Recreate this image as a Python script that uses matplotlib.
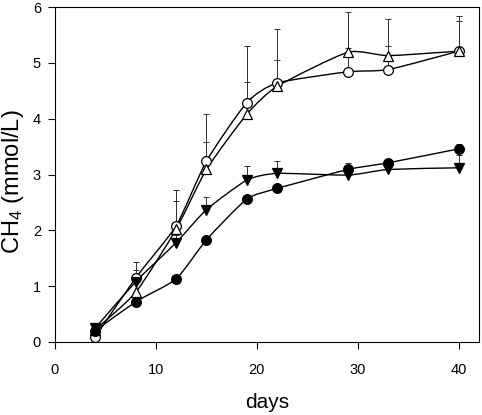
import numpy as np
import matplotlib
matplotlib.use("Agg")
import matplotlib.pyplot as plt
from matplotlib.path import Path
from matplotlib.patches import PathPatch

plt.rcParams['font.family'] = ['Liberation Sans', 'DejaVu Sans']
plt.rcParams['mathtext.fontset'] = 'custom'
plt.rcParams['mathtext.rm'] = 'Liberation Sans'
plt.rcParams['mathtext.it'] = 'Liberation Sans'

# sampling days
days = [4, 8, 12, 15, 19, 22, 29, 33, 40]

# CH4 (mmol/L) for the four treatments, with upper error bars
open_circle = [0.09, 1.15, 2.08, 3.24, 4.29, 4.64, 4.84, 4.88, 5.21]
open_circle_err = [0.2, 0.28, 0.64, 0.85, 1.01, 0.97, 1.08, 0.90, 0.63]
open_tri = [0.22, 0.89, 2.02, 3.09, 4.08, 4.58, 5.19, 5.13, 5.21]
open_tri_err = [0.1, 0.40, 0.51, 0.50, 0.58, 0.47, 0.07, 0.17, 0.54]
filled_tri = [0.25, 1.08, 1.78, 2.37, 2.90, 3.02, 2.99, 3.09, 3.12]
filled_tri_err = [0.06, 0.10, 0.13, 0.23, 0.25, 0.23, 0.21, 0.03, 0.23]
filled_circle = [0.2, 0.72, 1.13, 1.83, 2.56, 2.75, 3.09, 3.21, 3.46]
filled_circle_err = [0.04, 0.05, 0.04, 0.04, 0.05, 0.06, 0.08, 0.05, 0.08]


def smooth_path(x, y):
    # Catmull-Rom style curve drawn as cubic bezier segments
    x = np.asarray(x, float)
    y = np.asarray(y, float)
    verts = [(x[0], y[0])]
    codes = [Path.MOVETO]
    n = len(x)
    for i in range(n - 1):
        p0 = np.array([x[max(i - 1, 0)], y[max(i - 1, 0)]])
        p1 = np.array([x[i], y[i]])
        p2 = np.array([x[i + 1], y[i + 1]])
        p3 = np.array([x[min(i + 2, n - 1)], y[min(i + 2, n - 1)]])
        c1 = p1 + (p2 - p0) / 6.0 * 0.6
        c2 = p2 - (p3 - p1) / 6.0 * 0.6
        verts += [tuple(c1), tuple(c2), tuple(p2)]
        codes += [Path.CURVE4] * 3
    return Path(verts, codes)


fig = plt.figure(figsize=(4.82, 4.15), dpi=100)
ax = fig.add_axes([0.114, 0.176, 0.880, 0.807])

series = [
    (open_circle, open_circle_err, 'o', 'white'),
    (open_tri, open_tri_err, '^', 'white'),
    (filled_tri, filled_tri_err, 'v', 'black'),
    (filled_circle, filled_circle_err, 'o', 'black'),
]

for y, err, m, fc in series:
    ax.errorbar(days, y, yerr=[np.zeros(len(err)), err], fmt='none',
                ecolor='#333333', elinewidth=0.7, capsize=2.5, capthick=0.7, zorder=2)
    ax.add_patch(PathPatch(smooth_path(days, y), facecolor='none',
                           edgecolor='black', lw=1.0, zorder=3))
    ax.plot(days, y, linestyle='none', marker=m, markersize=7,
            markerfacecolor=fc, markeredgecolor='black', markeredgewidth=0.9, zorder=4)

ax.set_xlim(0, 42)
ax.set_ylim(0, 6)
ax.set_xticks([0, 10, 20, 30, 40])
ax.set_yticks([0, 1, 2, 3, 4, 5, 6])
ax.tick_params(direction='out', length=5, width=0.8, labelsize=10.5)
ax.tick_params(axis='x', pad=10)
ax.tick_params(axis='y', pad=5)
ax.tick_params(top=False, right=False)
for s in ax.spines.values():
    s.set_linewidth(0.8)

ax.set_xlabel('days', fontsize=15, labelpad=12)
ax.set_ylabel('CH$_4$ (mmol/L)', fontsize=17)
ax.yaxis.set_label_coords(-0.068, 0.478)

fig.savefig('out.png', dpi=100)
